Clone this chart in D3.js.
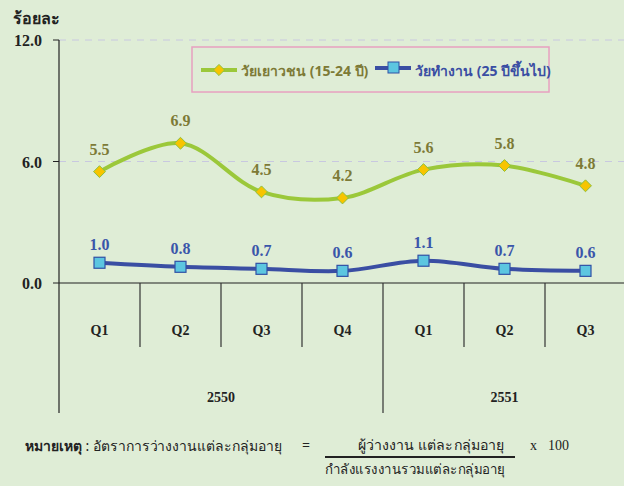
<!DOCTYPE html>
<html lang="th">
<head>
<meta charset="UTF-8">
<script src="https://d3js.org/d3.v7.min.js"></script>
<style>
  body { margin: 0; background: #dfedd6; }
  svg { display: block; }
  .serif { font-family: "Liberation Serif", "DejaVu Serif", serif; font-weight: bold; }
</style>
</head>
<body>
<div id="chart"></div>
<script>
const quarters = ["Q1", "Q2", "Q3", "Q4", "Q1", "Q2", "Q3"];
const years = [{ label: "2550", from: 0, to: 4 }, { label: "2551", from: 4, to: 7 }];
const youth = [5.5, 6.9, 4.5, 4.2, 5.6, 5.8, 4.8];
const working = [1.0, 0.8, 0.7, 0.6, 1.1, 0.7, 0.6];
const yTicks = [0, 6, 12];
const seriesNames = ["วัยเยาวชน (15-24 ปี)", "วัยทำงาน (25 ปีขึ้นไป)"];

const W = 624, H = 486;
const plotLeft = 59, plotRight = 626, plotTop = 40, plotBottom = 283;

const svg = d3.select("#chart").append("svg")
    .attr("width", W).attr("height", H);

svg.append("rect").attr("width", W).attr("height", H).attr("fill", "#dfedd6");

const x = d3.scaleBand().domain(d3.range(quarters.length)).range([plotLeft, plotRight]);
const y = d3.scaleLinear().domain([0, 12]).range([plotBottom, plotTop]);

// gridlines
svg.selectAll(".grid")
    .data(yTicks.filter(d => d > 0))
    .join("line")
    .attr("x1", plotLeft).attr("x2", W)
    .attr("y1", d => y(d)).attr("y2", d => y(d))
    .attr("stroke", "#c8c8e0").attr("stroke-width", 1)
    .attr("stroke-dasharray", "7,6");

// y axis
svg.append("line")
    .attr("x1", plotLeft).attr("x2", plotLeft)
    .attr("y1", plotTop).attr("y2", 413)
    .attr("stroke", "#222").attr("stroke-width", 1.2);

svg.selectAll(".ytick")
    .data(yTicks)
    .join("line")
    .attr("x1", plotLeft - 6).attr("x2", plotLeft)
    .attr("y1", d => y(d)).attr("y2", d => y(d))
    .attr("stroke", "#222");

svg.selectAll(".ylab")
    .data(yTicks)
    .join("text")
    .attr("class", "serif")
    .attr("x", 42).attr("y", d => y(d) + 6)
    .attr("text-anchor", "end")
    .attr("font-size", 16)
    .attr("fill", "#222")
    .text(d => d.toFixed(1));

svg.append("text")
    .attr("x", 13).attr("y", 24)
    .attr("font-family", "Noto Sans, sans-serif").attr("font-weight", "bold")
    .attr("font-size", 16).attr("fill", "#222")
    .text("ร้อยละ");

// x axis
svg.append("line")
    .attr("x1", plotLeft).attr("x2", W)
    .attr("y1", plotBottom).attr("y2", plotBottom)
    .attr("stroke", "#222").attr("stroke-width", 1.2);

svg.selectAll(".sep")
    .data(d3.range(1, quarters.length))
    .join("line")
    .attr("x1", d => x(d)).attr("x2", d => x(d))
    .attr("y1", plotBottom)
    .attr("y2", d => years.some(yr => yr.from === d) ? 413 : 347)
    .attr("stroke", "#333").attr("stroke-width", 1.2);

svg.selectAll(".qlab")
    .data(quarters)
    .join("text")
    .attr("class", "serif")
    .attr("x", (d, i) => x(i) + x.bandwidth() / 2)
    .attr("y", 335)
    .attr("text-anchor", "middle")
    .attr("font-size", 14).attr("fill", "#222")
    .text(d => d);

svg.selectAll(".yrlab")
    .data(years)
    .join("text")
    .attr("class", "serif")
    .attr("x", d => (x(d.from) + x(d.to - 1) + x.bandwidth()) / 2)
    .attr("y", 402)
    .attr("text-anchor", "middle")
    .attr("font-size", 14).attr("fill", "#222")
    .text(d => d.label);

const cx = i => x(i) + x.bandwidth() / 2;
const line = d3.line().x((d, i) => cx(i)).y(d => y(d)).curve(d3.curveCatmullRom.alpha(0.5));

// youth series
svg.append("path").datum(youth)
    .attr("d", line).attr("fill", "none")
    .attr("stroke", "#9bc83a").attr("stroke-width", 4);
svg.selectAll(".ydot").data(youth).join("path")
    .attr("d", d3.symbol(d3.symbolDiamond2, 90))
    .attr("transform", (d, i) => `translate(${cx(i)},${y(d)})`)
    .attr("fill", "#f7c400").attr("stroke", "#8cc040").attr("stroke-width", 1);
svg.selectAll(".ylbl").data(youth).join("text")
    .attr("class", "serif")
    .attr("x", (d, i) => cx(i)).attr("y", d => y(d) - 17)
    .attr("text-anchor", "middle").attr("font-size", 16)
    .attr("fill", "#7d7a36")
    .text(d => d.toFixed(1));

// working-age series
svg.append("path").datum(working)
    .attr("d", line).attr("fill", "none")
    .attr("stroke", "#3a4ea3").attr("stroke-width", 4);
svg.selectAll(".wdot").data(working).join("rect")
    .attr("x", (d, i) => cx(i) - 5.5).attr("y", d => y(d) - 5.5)
    .attr("width", 11).attr("height", 11)
    .attr("fill", "#5cc6e0").attr("stroke", "#3050a5").attr("stroke-width", 1.2);
svg.selectAll(".wlbl").data(working).join("text")
    .attr("class", "serif")
    .attr("x", (d, i) => cx(i)).attr("y", d => y(d) - 13)
    .attr("text-anchor", "middle").attr("font-size", 16)
    .attr("fill", "#3a55aa")
    .text(d => d.toFixed(1));

// legend
const lg = svg.append("g");
lg.append("rect").attr("x", 192).attr("y", 47).attr("width", 357).attr("height", 45)
    .attr("fill", "none").attr("stroke", "#e8a0c0").attr("stroke-width", 1.5);
lg.append("line").attr("x1", 201).attr("x2", 237).attr("y1", 70).attr("y2", 70)
    .attr("stroke", "#9bc83a").attr("stroke-width", 4);
lg.append("path").attr("d", d3.symbol(d3.symbolDiamond2, 80))
    .attr("transform", "translate(219,70)")
    .attr("fill", "#f7c400").attr("stroke", "#8cc040");
lg.append("text").attr("x", 241).attr("y", 76)
    .attr("font-family", "Noto Sans, sans-serif").attr("font-weight", "bold")
    .attr("font-size", 14).attr("fill", "#7d7a36")
    .text(seriesNames[0]);
lg.append("line").attr("x1", 375).attr("x2", 411).attr("y1", 68).attr("y2", 68)
    .attr("stroke", "#3a4ea3").attr("stroke-width", 4);
lg.append("rect").attr("x", 388).attr("y", 62).attr("width", 11).attr("height", 11)
    .attr("fill", "#5cc6e0").attr("stroke", "#3050a5");
lg.append("text").attr("x", 415).attr("y", 76)
    .attr("font-family", "Noto Sans, sans-serif").attr("font-weight", "bold")
    .attr("font-size", 14).attr("fill", "#3a4ea3")
    .text(seriesNames[1]);

// note
const note = svg.append("g").attr("font-family", "Noto Sans, sans-serif")
    .attr("font-size", 14).attr("fill", "#222");
note.append("text").attr("x", 25).attr("y", 451)
    .attr("textLength", 257).attr("lengthAdjust", "spacingAndGlyphs")
    .html('<tspan font-weight="bold">หมายเหตุ</tspan> : อัตราการว่างงานแต่ละกลุ่มอายุ');
note.append("text").attr("x", 302).attr("y", 450).text("=");
note.append("text").attr("x", 358).attr("y", 450)
    .attr("textLength", 146).attr("lengthAdjust", "spacingAndGlyphs")
    .text("ผู้ว่างงาน แต่ละกลุ่มอายุ");
note.append("line").attr("x1", 325).attr("x2", 515).attr("y1", 457).attr("y2", 457)
    .attr("stroke", "#222").attr("stroke-width", 1.8);
note.append("text").attr("x", 325).attr("y", 474)
    .attr("textLength", 180).attr("lengthAdjust", "spacingAndGlyphs")
    .text("กำลังแรงงานรวมแต่ละกลุ่มอายุ");
note.append("text").attr("x", 530).attr("y", 450).attr("font-family", "Liberation Serif, serif").text("x");
note.append("text").attr("x", 548).attr("y", 450).attr("font-family", "Liberation Serif, serif").text("100");
</script>
</body>
</html>
